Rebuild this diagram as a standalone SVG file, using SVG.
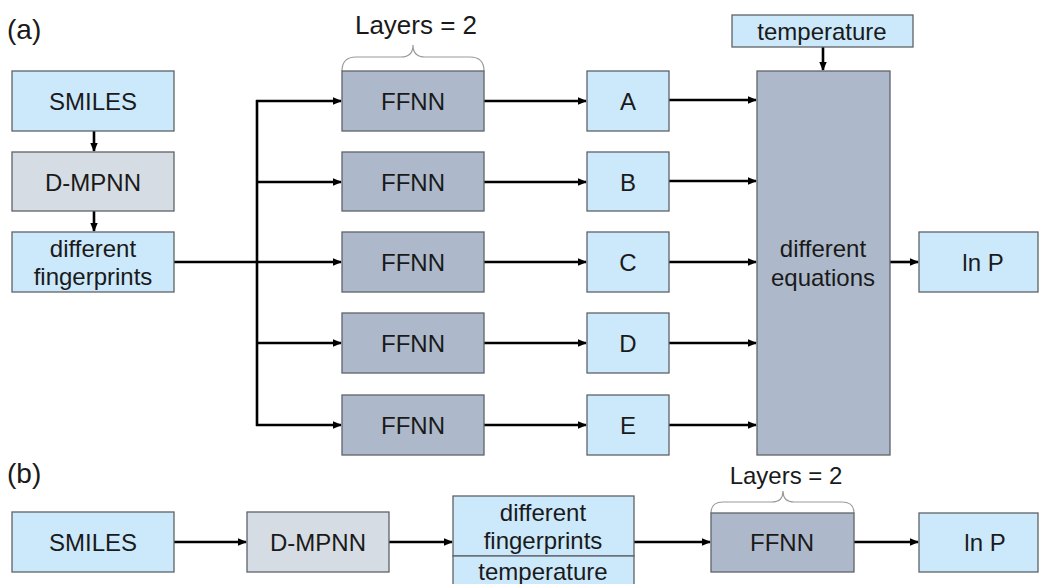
<svg xmlns="http://www.w3.org/2000/svg" width="1039" height="584" viewBox="0 0 1039 584">
<style>
.box{stroke:#5f6368;stroke-width:1.3}
.blue{fill:#cce8fb}
.lgray{fill:#d6dce4}
.dgray{fill:#adb9ca}
text{font-family:"Liberation Sans",Arial,sans-serif;font-size:24px;fill:#1a1a1a;text-anchor:middle}
.lbl{text-anchor:start;font-size:28px}
.lay{font-size:26px}
.lay2{font-size:24px}
.conn{stroke:#000;stroke-width:2.6;fill:none}
.brace{stroke:#9a9a9a;stroke-width:1.2;fill:none}
</style>
<defs>
<marker id="ah" markerWidth="9" markerHeight="9" refX="8" refY="4.5" orient="auto" markerUnits="userSpaceOnUse">
<path d="M0,0.8 L9,4.5 L0,8.2 z" fill="#000"/>
</marker>
</defs>
<rect width="1039" height="584" fill="#fff"/>
<text class="lbl" x="7" y="39">(a)</text>
<text class="lbl" x="7" y="483">(b)</text>
<g id="connectors">
<line class="conn" x1="94" y1="131" x2="94" y2="151" marker-end="url(#ah)"/>
<line class="conn" x1="94" y1="211" x2="94" y2="231" marker-end="url(#ah)"/>
<line class="conn" x1="174" y1="262" x2="257" y2="262"/>
<line class="conn" x1="257" y1="100" x2="257" y2="426"/>
<line class="conn" x1="256" y1="101" x2="341" y2="101" marker-end="url(#ah)"/>
<line class="conn" x1="256" y1="182" x2="341" y2="182" marker-end="url(#ah)"/>
<line class="conn" x1="257" y1="262" x2="341" y2="262" marker-end="url(#ah)"/>
<line class="conn" x1="256" y1="343" x2="341" y2="343" marker-end="url(#ah)"/>
<line class="conn" x1="256" y1="425" x2="341" y2="425" marker-end="url(#ah)"/>
<line class="conn" x1="484" y1="101" x2="586" y2="101" marker-end="url(#ah)"/>
<line class="conn" x1="484" y1="182" x2="586" y2="182" marker-end="url(#ah)"/>
<line class="conn" x1="484" y1="262" x2="586" y2="262" marker-end="url(#ah)"/>
<line class="conn" x1="484" y1="343" x2="586" y2="343" marker-end="url(#ah)"/>
<line class="conn" x1="484" y1="425" x2="586" y2="425" marker-end="url(#ah)"/>
<line class="conn" x1="669" y1="100" x2="756" y2="100" marker-end="url(#ah)"/>
<line class="conn" x1="669" y1="181" x2="756" y2="181" marker-end="url(#ah)"/>
<line class="conn" x1="669" y1="262" x2="756" y2="262" marker-end="url(#ah)"/>
<line class="conn" x1="669" y1="343" x2="756" y2="343" marker-end="url(#ah)"/>
<line class="conn" x1="669" y1="425" x2="756" y2="425" marker-end="url(#ah)"/>
<line class="conn" x1="823" y1="47" x2="823" y2="70" marker-end="url(#ah)"/>
<line class="conn" x1="890" y1="262" x2="918" y2="262" marker-end="url(#ah)"/>
<line class="conn" x1="174" y1="542" x2="246" y2="542" marker-end="url(#ah)"/>
<line class="conn" x1="389" y1="542" x2="452" y2="542" marker-end="url(#ah)"/>
<line class="conn" x1="634" y1="542" x2="710" y2="542" marker-end="url(#ah)"/>
<line class="conn" x1="854" y1="542" x2="918" y2="542" marker-end="url(#ah)"/>
</g>
<g id="brace-a">
<path class="brace" d="M342,71 Q342,57 356,57 L401,57 Q413,57 413,45 Q413,57 425,57 L470,57 Q484,57 484,71"/>
<text class="lay" x="416" y="34">Layers = 2</text>
</g>
<g id="brace-b">
<path class="brace" d="M711,513 Q711,502 723,502 L772,502 Q783,502 783,491 Q783,502 794,502 L842,502 Q854,502 854,513"/>
<text class="lay2" x="786" y="484">Layers = 2</text>
</g>
<g id="a-smiles"><rect class="box blue" x="12" y="71" width="162" height="60"/><text x="93" y="110">SMILES</text></g>
<g id="a-dmpnn"><rect class="box lgray" x="12" y="152" width="162" height="59"/><text x="93" y="191">D-MPNN</text></g>
<g id="a-fp"><rect class="box blue" x="12" y="232" width="162" height="60"/><text x="93" y="257">different</text><text x="93" y="285">fingerprints</text></g>
<g id="a-ffnn1"><rect class="box dgray" x="342" y="71" width="142" height="60"/><text x="413" y="110">FFNN</text></g>
<g id="a-ffnn2"><rect class="box dgray" x="342" y="152" width="142" height="59"/><text x="413" y="191">FFNN</text></g>
<g id="a-ffnn3"><rect class="box dgray" x="342" y="232" width="142" height="60"/><text x="413" y="271">FFNN</text></g>
<g id="a-ffnn4"><rect class="box dgray" x="342" y="313" width="142" height="60"/><text x="413" y="352">FFNN</text></g>
<g id="a-ffnn5"><rect class="box dgray" x="342" y="395" width="142" height="60"/><text x="413" y="434">FFNN</text></g>
<g id="a-A"><rect class="box blue" x="587" y="71" width="82" height="60"/><text x="628" y="110">A</text></g>
<g id="a-B"><rect class="box blue" x="587" y="152" width="82" height="59"/><text x="628" y="191">B</text></g>
<g id="a-C"><rect class="box blue" x="587" y="232" width="82" height="60"/><text x="628" y="271">C</text></g>
<g id="a-D"><rect class="box blue" x="587" y="313" width="82" height="60"/><text x="628" y="352">D</text></g>
<g id="a-E"><rect class="box blue" x="587" y="395" width="82" height="60"/><text x="628" y="434">E</text></g>
<g id="a-temp"><rect class="box blue" x="732" y="15" width="181" height="32"/><text x="822" y="40">temperature</text></g>
<g id="a-eq"><rect class="box dgray" x="757" y="71" width="133" height="384"/><text x="823" y="257">different</text><text x="823" y="286">equations</text></g>
<g id="a-lnp"><rect class="box blue" x="919" y="232" width="119" height="60"/><text x="983" y="271">ln P</text></g>
<g id="b-smiles"><rect class="box blue" x="12" y="512" width="162" height="60"/><text x="93" y="551">SMILES</text></g>
<g id="b-dmpnn"><rect class="box lgray" x="247" y="512" width="142" height="60"/><text x="318" y="551">D-MPNN</text></g>
<g id="b-fp"><rect class="box blue" x="453" y="496" width="181" height="60"/><text x="543" y="521">different</text><text x="543" y="549">fingerprints</text></g>
<g id="b-temp"><rect class="box blue" x="453" y="556" width="181" height="40"/><text x="543" y="580">temperature</text></g>
<g id="b-ffnn"><rect class="box dgray" x="711" y="513" width="143" height="59"/><text x="782" y="551">FFNN</text></g>
<g id="b-lnp"><rect class="box blue" x="919" y="513" width="119" height="59"/><text x="985" y="551">ln P</text></g>
</svg>
